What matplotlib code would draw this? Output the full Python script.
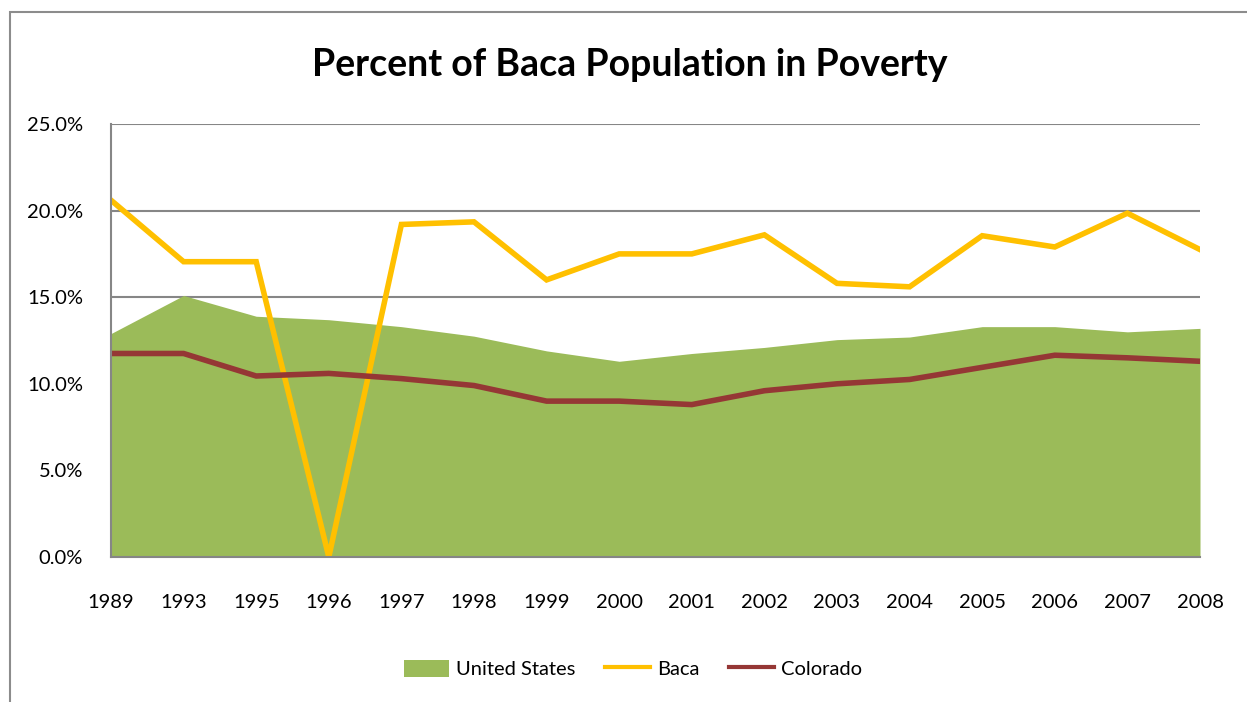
import matplotlib
matplotlib.use("Agg")
import matplotlib.pyplot as plt
from matplotlib.patches import Rectangle, Patch
from matplotlib.lines import Line2D
from matplotlib.ticker import FuncFormatter

years = ["1989", "1993", "1995", "1996", "1997", "1998", "1999", "2000", "2001", "2002",
         "2003", "2004", "2005", "2006", "2007", "2008"]
united_states = [12.9, 15.1, 13.9, 13.7, 13.3, 12.75, 11.9, 11.3, 11.75, 12.1,
                 12.55, 12.7, 13.3, 13.3, 13.0, 13.2]
baca = [20.6, 17.05, 17.05, 0.0, 19.2, 19.35, 16.0, 17.5, 17.5, 18.6,
        15.8, 15.6, 18.55, 17.9, 19.85, 17.75]
colorado = [11.75, 11.75, 10.45, 10.6, 10.3, 9.9, 9.0, 9.0, 8.8, 9.6,
            10.0, 10.25, 10.95, 11.65, 11.5, 11.3]
y_ticks = [0, 5, 10, 15, 20, 25]

plt.rcParams['font.family'] = ['Lato', 'DejaVu Sans']

W, H = 1247, 702
fig = plt.figure(figsize=(W / 100, H / 100), dpi=100)
fig.patch.set_facecolor('white')

# outer chart border (only left and top visible in the crop)
fig.patches.append(Rectangle((10 / W, -0.1), 1.2, (H - 12) / H + 0.1,
                             transform=fig.transFigure, fill=False,
                             edgecolor='#8c8c8c', linewidth=1.5))

ax = fig.add_axes([111 / W, 1 - 557 / H, (1200 - 111) / W, (557 - 124) / H])
x = list(range(len(years)))

ax.fill_between(x, united_states, 0, color='#9bbb59', linewidth=0, zorder=2)
ax.plot(x, baca, color='#ffc000', linewidth=4, zorder=3, solid_joinstyle='miter')
ax.plot(x, colorado, color='#953735', linewidth=4, zorder=4, solid_joinstyle='miter')

ax.set_xlim(0, len(years) - 1)
ax.set_ylim(0, 25)
ax.set_yticks(y_ticks)
ax.yaxis.set_major_formatter(FuncFormatter(lambda v, p: f"{v:.1f}%"))
ax.set_xticks(x)
ax.set_xticklabels(years)
ax.grid(axis='y', color='#868686', linewidth=1.5, zorder=1)
ax.tick_params(axis='both', length=0, labelsize=14.5, colors='black')
ax.tick_params(axis='x', pad=27)
ax.tick_params(axis='y', pad=20)
for s in ['top', 'right']:
    ax.spines[s].set_visible(False)
for s in ['left', 'bottom']:
    ax.spines[s].set_color('#868686')
    ax.spines[s].set_linewidth(1.5)
    ax.spines[s].set_zorder(5)

fig.text(630 / W, 1 - 65 / H, "Percent of Baca Population in Poverty",
         ha='center', va='center', fontsize=27, fontweight='bold')

handles = [Patch(facecolor='#9bbb59', edgecolor='none'),
           Line2D([0], [0], color='#ffc000', linewidth=3),
           Line2D([0], [0], color='#953735', linewidth=3)]
fig.legend(handles, ["United States", "Baca", "Colorado"], loc='center',
           bbox_to_anchor=(633 / W, 1 - 669 / H), ncol=3, frameon=False,
           fontsize=14.5, handlelength=2.2, handleheight=0.9, columnspacing=1.5,
           handletextpad=0.35)

fig.savefig("out.png", dpi=100)
